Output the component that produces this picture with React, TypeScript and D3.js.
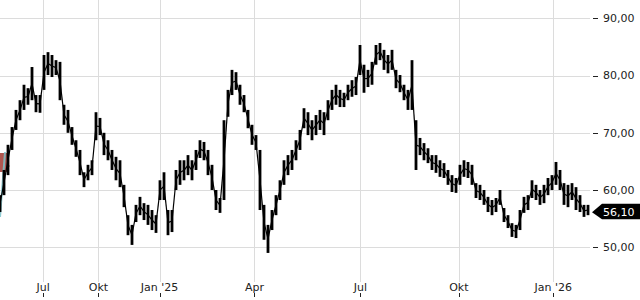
import React from "react";
import * as d3 from "d3";

// Price range per period (high / low)
const highs = [
  59.1, 63.5, 67.9, 71.0, 74.0, 75.7, 78.4, 77.8, 81.5, 76.6,
  76.6, 83.6, 84.1, 83.6, 82.7, 82.4, 74.9, 74.0, 71.0, 68.7,
  67.0, 63.1, 64.4, 65.2, 73.6, 72.6, 70.0, 68.7, 67.0, 65.8,
  65.2, 60.9, 55.6, 53.9, 57.4, 58.8, 57.7, 57.4, 56.5, 55.6,
  61.7, 63.1, 56.5, 56.5, 63.5, 65.2, 65.2, 66.1, 65.2, 67.0,
  68.7, 68.4, 67.0, 64.4, 60.0, 58.6, 72.2, 77.5, 81.0, 80.6,
  78.4, 76.6, 74.0, 71.4, 69.6, 67.0, 57.4, 53.9, 56.5, 59.1,
  61.7, 65.2, 66.1, 67.0, 68.7, 70.5, 74.3, 73.6, 72.2, 73.1,
  74.0, 73.6, 75.7, 77.5, 78.4, 77.5, 77.0, 78.4, 79.2, 79.75,
  85.35, 81.9, 81.0, 82.4, 85.35, 85.7, 84.5, 83.6, 84.5, 81.0,
  80.1, 78.4, 77.5, 82.7, 72.2, 69.1, 68.2, 67.3, 66.1, 66.1,
  65.2, 64.7, 63.5, 62.6, 62.1, 64.4, 65.2, 64.9, 64.4, 61.2,
  60.9, 60.0, 58.8, 58.25, 58.6, 60.0, 56.85, 55.6, 54.2, 53.9,
  56.5, 58.8, 59.1, 61.7, 60.9, 60.0, 60.9, 62.1, 62.6, 64.9,
  63.5, 61.2, 60.9, 61.2, 60.5, 59.1, 57.4, 57.4,
];
const lows = [
  56.15, 59.1, 62.6, 67.0, 70.5, 72.2, 74.0, 74.9, 75.7, 73.6,
  73.5, 77.5, 80.1, 79.75, 80.1, 75.7, 71.4, 70.0, 67.9, 65.8,
  62.6, 60.5, 61.7, 62.6, 68.7, 69.6, 66.1, 65.2, 63.5, 61.7,
  60.5, 57.0, 52.1, 50.4, 54.4, 55.6, 54.75, 53.9, 53.0, 52.5,
  58.25, 58.25, 52.1, 52.65, 60.0, 60.9, 61.7, 62.6, 61.7, 63.5,
  65.6, 65.2, 62.6, 60.0, 56.5, 56.0, 58.25, 72.8, 76.6, 77.5,
  74.9, 73.6, 70.8, 67.9, 67.0, 56.5, 51.3, 49.0, 53.0, 55.6,
  58.25, 60.9, 62.6, 63.5, 65.2, 67.0, 70.8, 69.6, 68.7, 69.6,
  70.5, 69.6, 72.2, 74.0, 74.9, 74.5, 74.5, 75.7, 76.3, 76.6,
  80.1, 77.0, 78.0, 78.4, 81.9, 82.7, 81.0, 80.4, 81.0, 77.8,
  77.1, 75.7, 74.0, 74.0, 63.5, 66.1, 65.2, 64.7, 63.5, 63.0,
  62.3, 62.1, 60.9, 59.65, 59.5, 60.9, 62.3, 62.1, 60.9, 58.6,
  58.25, 57.4, 56.15, 55.6, 56.15, 57.4, 54.4, 53.35, 51.8, 51.6,
  53.0, 56.0, 56.5, 58.6, 58.25, 57.4, 57.7, 59.1, 60.0, 60.9,
  60.0, 57.4, 57.0, 58.25, 56.5, 56.15, 55.3, 55.6,
];
const lastPrice = 56.1;

const xTickLabels = ["Jul", "Okt", "Jan '25", "Apr", "Jul", "Okt", "Jan '26"];
const xTickIndex = [10.8, 24.6, 39.9, 63.6, 90.1, 114.7, 138.3];
const yTicks = [50, 60, 70, 80, 90];

export default function App() {
  const W = 640;
  const H = 300;
  const plotRight = 590;
  const x = d3.scaleLinear().domain([0, highs.length - 1]).range([0, 588]);
  const y = d3.scaleLinear().domain([50, 90]).range([247.2, 18.4]);
  const step = x(1) - x(0);
  const fmt = (v: number) => d3.format(".2f")(v).replace(".", ",");
  const font = "DejaVu Sans, sans-serif";
  const py = y(lastPrice);

  return (
    <svg
      width={W}
      height={H}
      style={{ position: "fixed", left: 0, top: 0, background: "#fff" }}
    >
      {/* grid */}
      {yTicks.map((t) => (
        <line key={"gy" + t} x1={0} x2={plotRight} y1={Math.round(y(t)) + 0.5} y2={Math.round(y(t)) + 0.5} stroke="#dcdcdc" strokeWidth={1} />
      ))}
      {xTickIndex.map((t, i) => (
        <line key={"gx" + i} x1={Math.round(x(t)) + 0.5} x2={Math.round(x(t)) + 0.5} y1={0} y2={282} stroke="#dcdcdc" strokeWidth={1} />
      ))}

      {/* left marker */}
      <rect x={0} y={153} width={7} height={19} fill="#a8443c" opacity={0.9} />
      <path d="M7,164 L10,166 L7,168 Z" fill="#a8443c" />
      <line x1={0} y1={217} x2={5} y2={152} stroke="#7cc4cc" strokeWidth={2} opacity={0.85} />

      {/* price bars */}
      {highs.map((h, i) => (
        <rect
          key={"b" + i}
          x={x(i) - step * 0.35}
          width={step * 0.7}
          y={y(h)}
          height={Math.max(1, y(lows[i]) - y(h))}
          fill="#000"
        />
      ))}
      {highs.map((h, i) =>
        i === 0 ? null : (
          <line
            key={"c" + i}
            x1={x(i - 1)}
            x2={x(i)}
            y1={y((highs[i - 1] + lows[i - 1]) / 2)}
            y2={y((h + lows[i]) / 2)}
            stroke="#000"
            strokeWidth={1.2}
          />
        )
      )}

      {/* y axis */}
      {yTicks.map((t) => (
        <g key={"yt" + t}>
          <line x1={593} x2={598} y1={Math.round(y(t)) + 0.5} y2={Math.round(y(t)) + 0.5} stroke="#222" strokeWidth={1} />
          <text x={603} y={y(t)} dy="0.35em" fontFamily={font} fontSize={11} fill="#222">
            {fmt(t)}
          </text>
        </g>
      ))}

      {/* x axis */}
      {xTickIndex.map((t, i) => (
        <g key={"xt" + i}>
          <line x1={Math.round(x(t)) + 0.5} x2={Math.round(x(t)) + 0.5} y1={293} y2={297} stroke="#222" strokeWidth={1} />
          <text x={x(t)} y={291} textAnchor="middle" fontFamily={font} fontSize={11} fill="#222">
            {xTickLabels[i]}
          </text>
        </g>
      ))}

      {/* last price label */}
      <path
        d={`M${plotRight + 2},${py} L${602},${py - 8.5} L${W},${py - 8.5} L${W},${py + 7} L${602},${py + 7} Z`}
        fill="#000"
      />
      <text x={603} y={py} dy="0.35em" fontFamily={font} fontSize={11} fill="#fff">
        {fmt(lastPrice)}
      </text>
    </svg>
  );
}
